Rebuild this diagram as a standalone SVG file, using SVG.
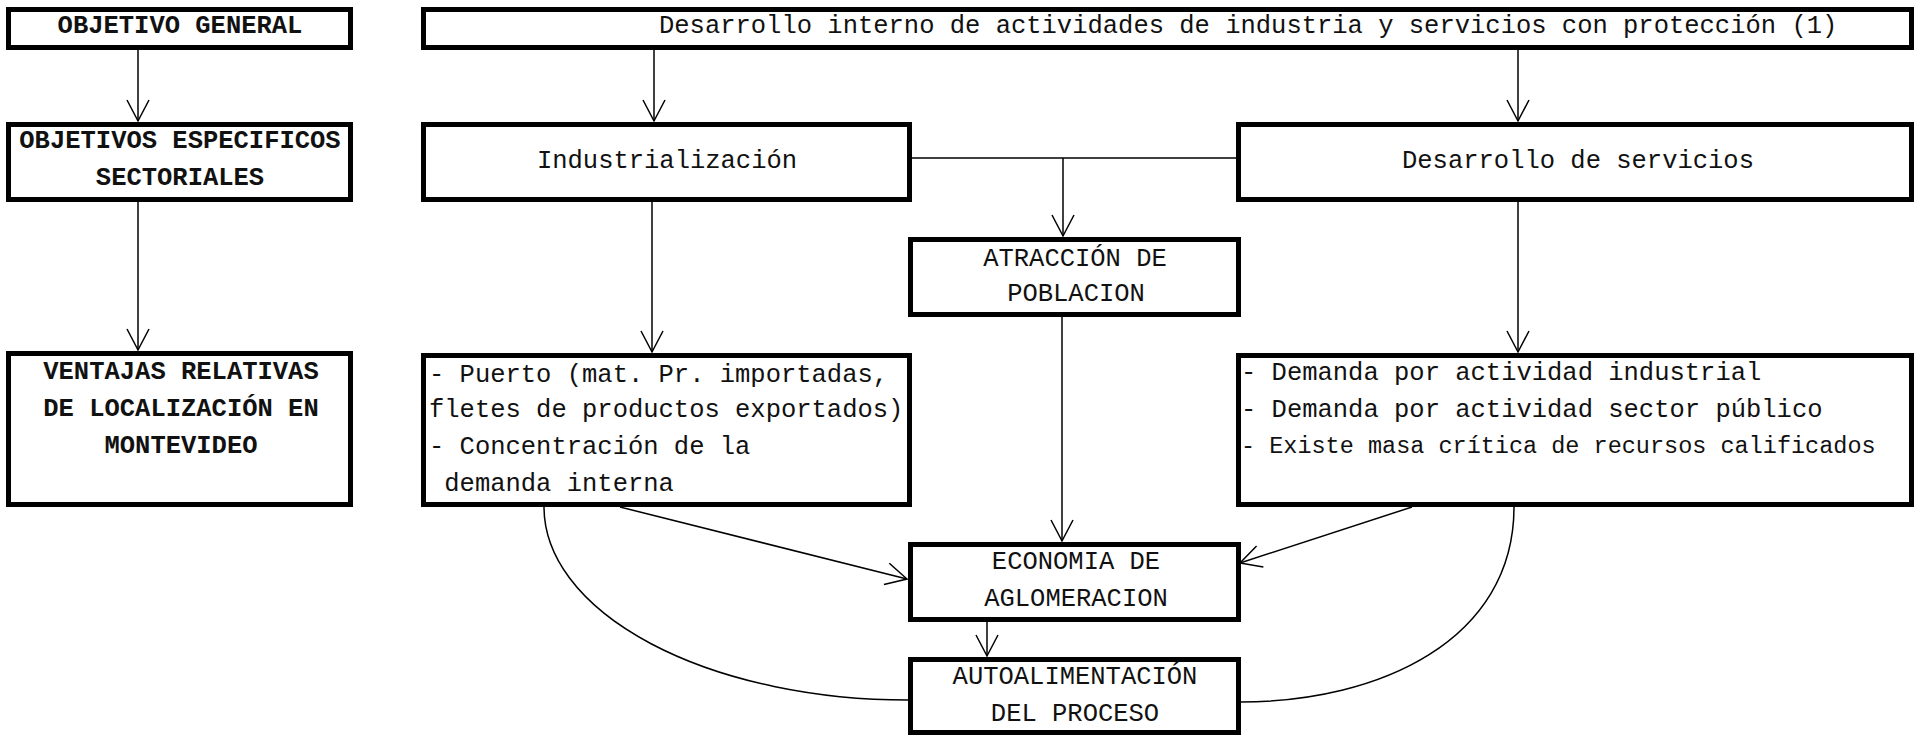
<svg xmlns="http://www.w3.org/2000/svg" width="1916" height="736" viewBox="0 0 1916 736">
<style>
.box{fill:#fff;stroke:#000;stroke-width:5}
.t{font-family:"Liberation Mono","Courier New",monospace;font-size:25.5px;fill:#111}
.b{font-weight:bold}
.c{text-anchor:middle}
.ln{fill:none;stroke:#000;stroke-width:1.5}
</style>
<defs>
<marker id="ah" markerUnits="userSpaceOnUse" viewBox="-1 -1 24 24" refX="21" refY="11" markerWidth="24" markerHeight="24" orient="auto">
<path d="M0,0 L21,11 L0,22" fill="none" stroke="#000" stroke-width="1.5"/>
</marker>
</defs>
<rect width="1916" height="736" fill="#fff"/>
<g id="connectors">
<line class="ln" x1="138" y1="50" x2="138" y2="121" marker-end="url(#ah)"/>
<line class="ln" x1="138" y1="202" x2="138" y2="350" marker-end="url(#ah)"/>
<line class="ln" x1="654" y1="50" x2="654" y2="121" marker-end="url(#ah)"/>
<line class="ln" x1="1518" y1="50" x2="1518" y2="121" marker-end="url(#ah)"/>
<line class="ln" x1="912" y1="158" x2="1236" y2="158"/>
<line class="ln" x1="1063" y1="158" x2="1063" y2="236" marker-end="url(#ah)"/>
<line class="ln" x1="652" y1="202" x2="652" y2="352" marker-end="url(#ah)"/>
<line class="ln" x1="1518" y1="202" x2="1518" y2="352" marker-end="url(#ah)"/>
<line class="ln" x1="1062" y1="317" x2="1062" y2="541" marker-end="url(#ah)"/>
<line class="ln" x1="620" y1="507" x2="907" y2="579" marker-end="url(#ah)"/>
<line class="ln" x1="1412" y1="507" x2="1240" y2="563" marker-end="url(#ah)"/>
<line class="ln" x1="987" y1="619" x2="987" y2="656" marker-end="url(#ah)"/>
<path class="ln" d="M544,507 A364,193 0 0 0 908,700"/>
<path class="ln" d="M1514,507 C1514,640 1380,702 1240,702"/>
</g>
<g id="objetivo-general">
<rect class="box" x="8.5" y="9.5" width="342" height="38"/>
<text class="t b c" x="180" y="33">OBJETIVO GENERAL</text>
</g>
<g id="objetivos-especificos">
<rect class="box" x="8.5" y="124.5" width="342" height="75"/>
<text class="t b c" x="180" y="148">OBJETIVOS ESPECIFICOS</text>
<text class="t b c" x="180" y="185">SECTORIALES</text>
</g>
<g id="ventajas">
<rect class="box" x="8.5" y="353.5" width="342" height="151"/>
<text class="t b c" x="181" y="379">VENTAJAS RELATIVAS</text>
<text class="t b c" x="181" y="416">DE LOCALIZACIÓN EN</text>
<text class="t b c" x="181" y="453">MONTEVIDEO</text>
</g>
<g id="desarrollo-interno">
<rect class="box" x="423.5" y="9.5" width="1488" height="38"/>
<text class="t" x="659" y="33">Desarrollo interno de actividades de industria y servicios con protección (1)</text>
</g>
<g id="industrializacion">
<rect class="box" x="423.5" y="124.5" width="486" height="75"/>
<text class="t c" x="667" y="168">Industrialización</text>
</g>
<g id="desarrollo-servicios">
<rect class="box" x="1238.5" y="124.5" width="673" height="75"/>
<text class="t c" x="1578" y="168">Desarrollo de servicios</text>
</g>
<g id="atraccion">
<rect class="box" x="910.5" y="239.5" width="328" height="75"/>
<text class="t c" x="1075" y="266">ATRACCIÓN DE</text>
<text class="t c" x="1076" y="301">POBLACION</text>
</g>
<g id="puerto">
<rect class="box" x="423.5" y="355.5" width="486" height="149"/>
<text class="t" x="429" y="382">- Puerto (mat. Pr. importadas,</text>
<text class="t" x="429" y="417">fletes de productos exportados)</text>
<text class="t" x="429" y="454">- Concentración de la</text>
<text class="t" x="429" y="491" xml:space="preserve"> demanda interna</text>
</g>
<g id="demanda">
<rect class="box" x="1238.5" y="355.5" width="673" height="149"/>
<text class="t" x="1241" y="380">- Demanda por actividad industrial</text>
<text class="t" x="1241" y="417">- Demanda por actividad sector público</text>
<text class="t" x="1241" y="453" style="font-size:23.5px">- Existe masa crítica de recursos calificados</text>
</g>
<g id="economia">
<rect class="box" x="910.5" y="544.5" width="328" height="75"/>
<text class="t c" x="1076" y="569">ECONOMIA DE</text>
<text class="t c" x="1076" y="606">AGLOMERACION</text>
</g>
<g id="autoalimentacion">
<rect class="box" x="910.5" y="659.5" width="328" height="73"/>
<text class="t c" x="1075" y="684">AUTOALIMENTACIÓN</text>
<text class="t c" x="1075" y="721">DEL PROCESO</text>
</g>
</svg>
